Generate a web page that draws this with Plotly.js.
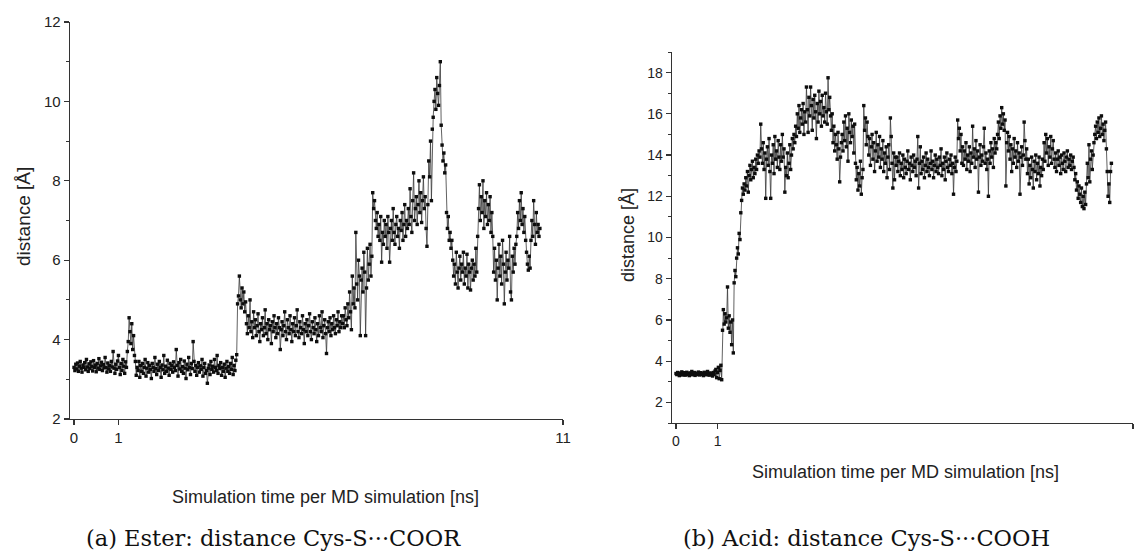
<!DOCTYPE html>
<html>
<head>
<meta charset="utf-8">
<script src="https://cdn.plot.ly/plotly-3.0.1.min.js"></script>
<style>
  html, body { margin: 0; padding: 0; background: #ffffff; }
  #chart { width: 1136px; height: 556px; }
</style>
</head>
<body>
<div id="chart"></div>
<script>
// ---- data ----
const timeStep = 0.02; // ns between plotted frames

// (a) Ester: distance Cys-S...COOR [Å]
const esterDistance = [
  // t 0.00 - 1.18
  3.3, 3.22, 3.38, 3.26, 3.41, 3.2, 3.33, 3.45, 3.28, 3.18,
  3.36, 3.3, 3.42, 3.24, 3.5, 3.31, 3.2, 3.39, 3.27, 3.44,
  3.33, 3.21, 3.47, 3.3, 3.36, 3.19, 3.4, 3.28, 3.52, 3.25,
  3.34, 3.43, 3.22, 3.37, 3.29, 3.55, 3.3, 3.18, 3.41, 3.26,
  3.35, 3.2, 3.45, 3.31, 3.7, 3.28, 3.15, 3.38, 3.25, 3.46,
  3.6, 3.3, 3.12, 3.4, 3.22, 3.5, 3.33, 3.15, 3.44, 3.3,
  // t 1.20 - 1.38
  3.7, 3.95, 4.55, 4.2, 3.9, 4.4, 3.75, 4.1, 3.6, 3.45,
  // t 1.40 - 3.66
  3.1, 3.3, 3.22, 3.45, 3.05, 3.35, 3.2, 3.4, 3.15, 3.3,
  3.5, 3.08, 3.28, 3.42, 3.18, 3.35, 3.25, 3.02, 3.4, 3.3,
  3.2, 3.55, 3.27, 3.12, 3.38, 3.22, 3.45, 3.3, 3.05, 3.36,
  3.24, 3.6, 3.15, 3.33, 3.2, 3.48, 3.28, 3.1, 3.4, 3.25,
  3.35, 3.18, 3.44, 3.3, 3.22, 3.75, 3.35, 3.08, 3.42, 3.26,
  3.5, 3.2, 3.32, 3.15, 3.46, 3.28, 3.02, 3.38, 3.24, 3.55,
  3.3, 3.12, 3.4, 3.27, 3.95, 3.45, 3.2, 3.35, 3.1, 3.3,
  3.42, 3.18, 3.34, 3.25, 3.5, 3.08, 3.3, 3.4, 3.15, 3.22,
  2.9, 3.28, 3.36, 3.12, 3.45, 3.25, 3.33, 3.18, 3.5, 3.3,
  3.22, 3.6, 3.15, 3.35, 3.27, 3.42, 3.1, 3.3, 3.2, 3.38,
  3.05, 3.28, 3.45, 3.2, 3.32, 3.15, 3.4, 3.25, 3.55, 3.12,
  3.35, 3.22, 3.48, 3.62,
  // t 3.68 - 3.86
  4.9, 5.1, 5.6, 5.0, 4.8, 5.3, 4.9, 5.2, 4.7, 4.95,
  // t 3.88 - 6.02
  4.4, 4.15, 4.6, 4.3, 5.0, 4.2, 4.45, 4.05, 4.7, 4.3,
  4.5, 4.1, 4.35, 4.65, 4.2, 3.95, 4.4, 4.25, 4.55, 4.1,
  4.3, 4.75, 4.15, 4.4, 4.0, 4.5, 4.25, 4.35, 3.9, 4.45,
  4.2, 4.6, 4.3, 4.05, 4.4, 4.15, 4.55, 4.3, 3.75, 4.25,
  4.45, 4.1, 4.35, 4.7, 4.2, 4.0, 4.5, 4.3, 4.15, 4.6,
  4.25, 3.95, 4.4, 4.2, 4.55, 4.1, 4.35, 4.75, 4.2, 4.05,
  4.45, 4.3, 4.15, 4.6, 4.25, 3.9, 4.4, 4.2, 4.5, 4.1,
  4.35, 4.65, 4.2, 4.0, 4.45, 4.3, 4.15, 4.55, 4.25, 3.95,
  4.4, 4.1, 4.6, 4.3, 4.2, 4.7, 4.05, 4.35, 4.5, 4.15,
  3.65, 4.3, 4.45, 4.2, 4.55, 4.1, 4.4, 4.25, 4.6, 4.3,
  4.15, 4.5, 4.35, 4.7, 4.2, 4.45, 4.3, 4.6,
  // t 6.04 - 6.70
  4.4, 4.6, 4.3, 4.8, 4.5, 4.35, 4.9, 4.55, 5.2, 4.7,
  4.25, 5.6, 4.9, 5.3, 4.8, 6.7, 5.4, 5.0, 6.0, 5.6,
  4.1, 5.5, 5.8, 5.2, 6.2, 5.7, 4.1, 5.3, 6.3, 5.5,
  5.9, 6.4, 5.6, 6.1,
  // t 6.72 - 7.94
  7.7, 7.3, 7.5, 7.0, 6.8, 7.2, 6.6, 6.9, 6.5, 7.1,
  5.95, 6.7, 6.4, 7.0, 6.6, 6.9, 6.3, 7.1, 6.7, 5.95,
  6.8, 7.0, 6.5, 7.3, 6.7, 6.4, 6.9, 7.1, 6.6, 6.8,
  6.3, 7.0, 6.75, 7.2, 6.5, 6.9, 7.4, 6.6, 7.0, 6.8,
  7.3, 6.9, 7.8, 7.1, 6.7, 7.5, 8.2, 7.0, 7.3, 7.6,
  6.9, 7.4, 8.0, 7.2, 7.7, 6.95, 7.5, 8.1, 7.3, 7.6,
  6.8, 6.35,
  // t 7.96 - 8.26
  7.4, 8.5, 8.1, 9.0, 7.5, 9.3, 9.6, 10.0, 10.3, 9.8, 10.6, 10.2, 9.9, 10.4, 11.0, 9.4,
  // t 8.28 - 8.50
  8.9, 8.5, 8.7, 8.2, 8.4, 7.2, 6.8, 7.1, 6.5, 6.7, 6.3, 6.5,
  // t 8.52 - 9.06
  6.0, 5.6, 5.9, 5.4, 6.2, 5.7, 5.3, 5.8, 6.1, 5.5, 5.9, 5.7, 6.2, 5.4,
  5.8, 5.6, 6.15, 5.3, 5.9, 5.7, 5.25, 5.8, 6.0, 5.5, 5.9, 5.6, 6.3, 5.7,
  // t 9.08 - 9.42
  6.6, 7.3, 7.9, 7.0, 7.6, 7.2, 8.0, 6.8, 7.5, 7.1, 7.7, 6.9, 7.4, 7.0, 7.6, 6.7, 7.2, 6.6,
  // t 9.44 - 9.94
  5.7, 6.3, 5.5, 6.0, 5.0, 5.8, 6.4, 5.6, 6.1, 5.4, 6.5, 5.9, 4.9,
  5.7, 6.2, 5.5, 6.0, 5.8, 6.6, 5.2, 5.0, 6.1, 5.7, 6.3, 5.9, 6.4,
  // t 9.96 - 10.48
  6.6, 7.2, 6.8, 7.5, 7.0, 7.7, 6.9, 7.3, 6.7, 7.1, 6.5, 6.2, 5.9, 5.75,
  6.1, 5.8, 6.5, 7.0, 6.6, 7.5, 6.9, 6.4, 7.2, 6.7, 6.9, 6.6, 6.8
];

// (b) Acid: distance Cys-S...COOH [Å]
const acidDistance = [
  // t 0.00 - 1.10
  3.4, 3.35, 3.45, 3.38, 3.3, 3.42, 3.36, 3.48, 3.33, 3.4,
  3.44, 3.32, 3.39, 3.46, 3.35, 3.41, 3.3, 3.43, 3.37, 3.5,
  3.34, 3.4, 3.45, 3.31, 3.38, 3.42, 3.36, 3.47, 3.33, 3.4,
  3.44, 3.35, 3.39, 3.3, 3.46, 3.37, 3.42, 3.34, 3.5, 3.38,
  3.32, 3.43, 3.36, 3.4, 3.28, 3.45, 3.35, 3.52, 3.6, 3.2,
  3.45, 3.7, 3.15, 3.55, 3.8, 3.1,
  // t 1.12 - 1.38
  5.5, 6.5, 5.8, 6.3, 5.9, 6.1, 7.6, 5.6, 6.2, 5.4, 5.9, 4.8, 6.0, 4.4,
  // t 1.40 - 1.60
  7.8, 8.4, 8.1, 9.0, 9.5, 9.2, 10.2, 9.9, 11.2, 11.8, 12.4,
  // t 1.62 - 2.00
  12.1, 12.6, 12.3, 12.9, 12.5, 13.2, 12.2, 13.0, 13.5, 12.8,
  13.3, 13.7, 12.9, 13.4, 13.1, 13.8, 13.3, 14.0, 13.6, 14.2,
  // t 2.02 - 2.84
  13.9, 15.5, 14.3, 13.6, 14.6, 13.3, 14.1, 11.9, 13.8, 14.4,
  13.5, 14.8, 13.2, 11.9, 14.0, 13.6, 14.5, 13.1, 14.9, 13.8,
  14.2, 13.4, 14.7, 13.9, 13.3, 14.5, 13.7, 15.0, 13.9, 14.3,
  12.2, 13.4, 13.0, 14.1, 12.9, 13.6, 14.5, 13.3, 14.0, 14.8,
  14.3, 15.0,
  // t 2.86 - 3.10
  14.6, 15.4, 14.9, 16.0, 15.3, 16.4, 15.1, 15.8, 16.2, 15.5, 16.5, 15.0, 16.1,
  // t 3.12 - 3.70
  15.6, 17.3, 16.2, 15.1, 16.8, 15.9, 17.3, 16.4, 15.2, 16.7,
  15.8, 16.9, 16.1, 14.8, 16.5, 15.6, 17.1, 16.0, 16.6, 15.4,
  16.9, 15.9, 16.3, 15.6, 17.0, 16.1, 15.5, 17.75, 16.2, 16.8,
  // t 3.72 - 3.98
  15.9, 15.2, 16.0, 14.6, 15.4, 14.2, 15.0, 14.5, 13.8, 15.1, 14.3, 12.7, 13.9, 14.6,
  // t 4.00 - 4.30
  15.0, 14.2, 15.6, 14.7, 15.9, 14.4, 15.3, 13.7, 16.0, 15.1, 14.6, 15.7, 14.9, 15.4, 14.1, 15.5,
  // t 4.32 - 4.50
  13.6, 12.8, 13.4, 12.3, 13.1, 12.5, 13.7, 12.1, 12.9, 13.3,
  // t 4.52 - 4.62
  16.4, 15.2, 15.8, 14.5, 15.6, 14.9,
  // t 4.64 - 5.14
  14.0, 14.8, 13.5, 14.4, 15.0, 13.8, 14.6, 13.2, 14.2, 15.1,
  13.7, 14.5, 13.9, 14.9, 13.4, 14.3, 13.8, 14.7, 13.2, 14.1,
  13.6, 14.4, 12.9, 13.9, 14.5, 13.3,
  // t 5.16 - 5.28
  15.8, 14.9, 13.6, 12.4, 14.1, 12.8, 13.9,
  // t 5.30 - 6.76
  13.5, 13.9, 13.2, 13.7, 14.1, 13.0, 13.6, 13.3, 14.0, 12.9,
  13.8, 13.4, 13.1, 13.7, 14.2, 13.3, 13.6, 12.8, 13.9, 13.5,
  13.2, 14.0, 13.4, 13.7, 13.0, 13.8, 14.9, 12.4, 13.6, 14.4,
  13.1, 13.7, 13.3, 13.9, 12.9, 13.5, 14.1, 13.2, 13.8, 13.4,
  13.0, 13.6, 14.2, 13.3, 13.7, 12.9, 13.5, 14.0, 13.2, 13.8,
  13.4, 13.1, 13.9, 13.5, 14.3, 13.0, 13.6, 13.3, 13.9, 12.8,
  13.7, 14.1, 13.4, 13.2, 13.8, 13.5, 14.0, 13.1, 13.6, 12.1,
  13.4, 13.9, 13.2, 13.7,
  // t 6.78 - 6.90
  15.7, 14.8, 15.3, 14.2, 15.0, 13.6, 14.4,
  // t 6.92 - 7.72
  13.5, 14.2, 13.8, 14.6, 13.3, 14.0, 13.7, 14.4, 13.2, 14.1,
  13.6, 15.4, 13.9, 14.3, 13.4, 14.7, 13.8, 14.2, 12.2, 13.9,
  14.5, 13.5, 14.0, 13.7, 14.4, 15.3, 13.6, 14.1, 13.3, 13.8,
  12.0, 14.2, 13.6, 14.6, 13.9, 14.3, 13.4, 14.8, 14.1, 14.6,
  14.3,
  // t 7.74 - 8.00
  15.0, 15.6, 14.8, 15.9, 15.3, 16.3, 15.5, 16.0, 15.2, 15.7, 12.5, 14.6, 15.1, 14.2,
  // t 8.02 - 8.44
  14.9, 13.8, 14.5, 13.2, 14.3, 13.6, 14.8, 13.9, 14.2, 13.4,
  14.6, 13.7, 14.1, 12.1, 13.9, 14.4, 13.5, 14.0, 15.6, 14.7,
  13.8, 14.3,
  // t 8.46 - 8.84
  13.1, 13.8, 12.6, 13.5, 12.9, 13.9, 13.3, 12.4, 13.7, 13.2,
  14.0, 12.8, 13.6, 13.1, 13.9, 12.5, 13.4, 13.0, 13.8, 13.3,
  // t 8.86 - 9.10
  14.6, 13.7, 15.0, 14.1, 14.8, 13.5, 14.4, 13.9, 14.9, 13.6, 14.3, 14.7, 13.8,
  // t 9.12 - 9.56
  13.4, 14.1, 13.2, 13.8, 14.2, 13.5, 13.9, 13.1, 14.0, 13.6,
  13.3, 14.1, 13.7, 13.2, 13.9, 14.2, 13.4, 13.8, 13.5, 14.0,
  13.3, 13.7, 13.9,
  // t 9.58 - 9.88
  13.4, 12.8, 13.1, 12.3, 12.7, 11.9, 12.5, 12.1, 11.7, 12.4, 11.5, 12.0, 11.4, 12.2, 11.6, 12.6,
  // t 9.90 - 10.04
  13.6, 12.9, 14.5, 12.7, 13.8, 14.2, 13.3, 14.0,
  // t 10.06 - 10.34
  14.6, 15.0, 15.4, 14.8, 15.6, 15.1, 15.8, 14.9, 15.3, 15.9, 15.0, 15.5, 14.7, 15.2, 15.6,
  // t 10.36 - 10.48
  14.3, 13.2, 12.0, 12.6, 11.7, 13.2, 13.6
];

const xTickValues = [0, 1, 11];
const xTickLabels = ['0', '1', '11'];
const esterYTicks = [2, 4, 6, 8, 10, 12];
const acidYTicks = [2, 4, 6, 8, 10, 12, 14, 16, 18];

const xTitleText = 'Simulation time per MD simulation [ns]';
const yTitleText = 'distance [Å]';
const captionA = '(a) Ester: distance Cys-S\u00B7\u00B7\u00B7COOR';
const captionB = '(b) Acid: distance Cys-S\u00B7\u00B7\u00B7COOH';

// ---- build ----
const esterTime = esterDistance.map((_, i) => +(i * timeStep).toFixed(2));
const acidTime = acidDistance.map((_, i) => +(i * timeStep).toFixed(2));

const W = 1136, H = 556;
const px = v => v / W;
const py = v => 1 - v / H;

const lineStyle = { color: '#3a3a3a', width: 0.8 };
const markerStyle = { symbol: 'square', size: 3.4, color: '#0d0d0d', line: { width: 0 } };

const traces = [
  { x: esterTime, y: esterDistance, xaxis: 'x', yaxis: 'y', type: 'scatter',
    mode: 'lines+markers', line: lineStyle, marker: markerStyle, showlegend: false, hoverinfo: 'skip' },
  { x: acidTime, y: acidDistance, xaxis: 'x2', yaxis: 'y2', type: 'scatter',
    mode: 'lines+markers', line: lineStyle, marker: markerStyle, showlegend: false, hoverinfo: 'skip' }
];

const axisCommon = {
  showline: true, linecolor: '#333333', linewidth: 1.4,
  ticks: 'outside', tickcolor: '#333333', tickwidth: 1.2, ticklen: 5,
  showgrid: false, zeroline: false, fixedrange: true
};

const sansFont = 'Liberation Sans, Arial, sans-serif';
const serifFont = 'DejaVu Serif, Liberation Serif, serif';

const layout = {
  width: W, height: H,
  margin: { l: 0, r: 0, t: 0, b: 0 },
  paper_bgcolor: '#ffffff', plot_bgcolor: '#ffffff',
  font: { family: sansFont, color: '#222222' },
  xaxis: Object.assign({}, axisCommon, {
    domain: [px(70), px(563)], anchor: 'y', range: [-0.09, 11],
    tickmode: 'array', tickvals: xTickValues, ticktext: xTickLabels,
    tickfont: { size: 15, color: '#222' }
  }),
  yaxis: Object.assign({}, axisCommon, {
    domain: [py(419), py(22)], anchor: 'x', range: [2, 12],
    tickmode: 'array', tickvals: esterYTicks,
    tickfont: { size: 15, color: '#222' },
    minor: { dtick: 1, tick0: 1, ticklen: 3, tickcolor: '#333333', tickwidth: 1, ticks: 'outside' }
  }),
  xaxis2: Object.assign({}, axisCommon, {
    domain: [px(672), px(1133)], anchor: 'y2', range: [-0.096, 11],
    tickmode: 'array', tickvals: xTickValues, ticktext: xTickLabels,
    tickfont: { size: 14, color: '#222' }
  }),
  yaxis2: Object.assign({}, axisCommon, {
    domain: [py(423), py(52)], anchor: 'x2', range: [1, 19],
    tickmode: 'array', tickvals: acidYTicks,
    tickfont: { size: 14, color: '#222' },
    minor: { dtick: 1, tick0: 1, ticklen: 3, tickcolor: '#333333', tickwidth: 1, ticks: 'outside' }
  }),
  annotations: [
    { text: xTitleText, xref: 'paper', yref: 'paper', x: px(325), y: py(497),
      xanchor: 'center', yanchor: 'middle', showarrow: false,
      font: { size: 18, color: '#222', family: sansFont } },
    { text: xTitleText, xref: 'paper', yref: 'paper', x: px(905), y: py(472),
      xanchor: 'center', yanchor: 'middle', showarrow: false,
      font: { size: 18, color: '#222', family: sansFont } },
    { text: yTitleText, xref: 'paper', yref: 'paper', x: px(23), y: py(217), textangle: -90,
      xanchor: 'center', yanchor: 'middle', showarrow: false,
      font: { size: 19, color: '#222', family: sansFont } },
    { text: yTitleText, xref: 'paper', yref: 'paper', x: px(628), y: py(235), textangle: -90,
      xanchor: 'center', yanchor: 'middle', showarrow: false,
      font: { size: 18, color: '#222', family: sansFont } },
    { text: captionA, xref: 'paper', yref: 'paper', x: px(273), y: py(538),
      xanchor: 'center', yanchor: 'middle', showarrow: false,
      font: { size: 22.5, color: '#111', family: serifFont } },
    { text: captionB, xref: 'paper', yref: 'paper', x: px(866), y: py(538),
      xanchor: 'center', yanchor: 'middle', showarrow: false,
      font: { size: 22.5, color: '#111', family: serifFont } }
  ]
};

Plotly.newPlot('chart', traces, layout, { staticPlot: true, displayModeBar: false });
</script>
</body>
</html>
